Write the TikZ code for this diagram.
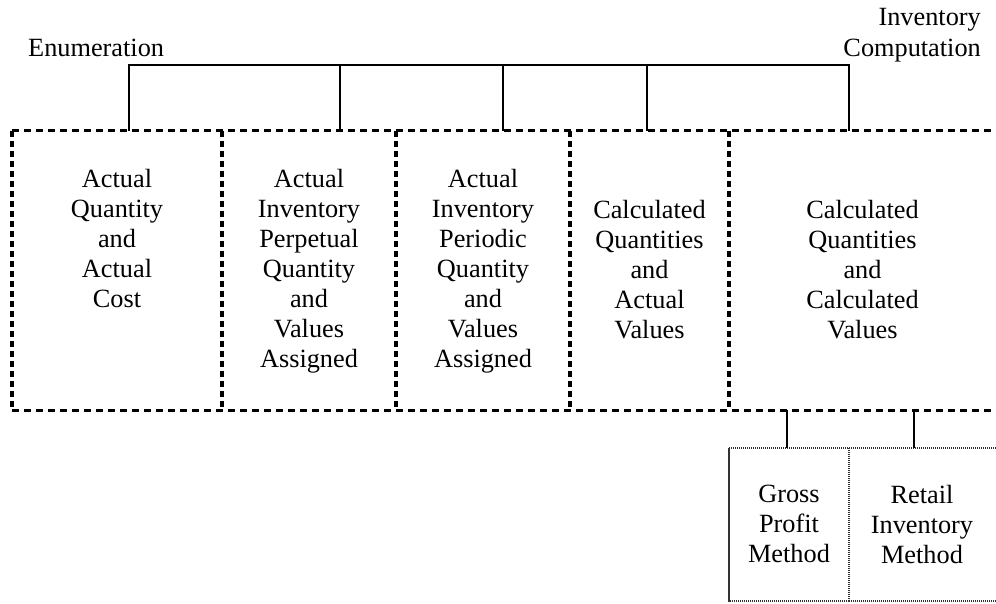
\documentclass[tikz,border=0pt]{standalone}
\usepackage{fontspec}
\setmainfont{Liberation Serif}
\begin{document}
\begin{tikzpicture}[x=1pt,y=-1pt,
  txt/.style={font=\fontsize{26.3}{30}\selectfont, align=center, inner sep=0pt, anchor=north},
  lbl/.style={font=\fontsize{26.3}{30}\selectfont, inner sep=0pt},
  cell/.style={inner sep=0pt, minimum height=279pt},
  subcell/.style={inner sep=0pt, minimum height=153pt},
  hdash/.style={line width=3pt, dash pattern=on 7pt off 5pt},
  vdash/.style={line width=3.5pt, dash pattern=on 6pt off 4pt},
  dotline/.style={line width=2.5pt, dash pattern=on 1.2pt off 0.8pt, gray!40!black},
  conn/.style={line width=2pt}]
\useasboundingbox (0,0) rectangle (996,603);
\begin{scope}
\clip (0,0) rectangle (996,603);
% invisible cells
\node[cell, minimum width=210pt] (b1) at (117,270.5) {};
\node[cell, minimum width=174pt] (b2) at (309,270.5) {};
\node[cell, minimum width=174pt] (b3) at (483,270.5) {};
\node[cell, minimum width=159pt] (b4) at (649.5,270.5) {};
\node[cell, minimum width=270pt] (b5) at (864,270.5) {};
\node[subcell, minimum width=120pt] (g1) at (789,524.5) {};
\node[subcell, minimum width=150pt] (g2) at (924,524.5) {};
% dashed frame
\draw[hdash] (b1.north west) -- (b5.north east);
\draw[hdash] (b1.south west) -- (b5.south east);
\draw[vdash] (b1.north west) -- (b1.south west);
\draw[vdash] (b2.north west) -- (b2.south west);
\draw[vdash] (b3.north west) -- (b3.south west);
\draw[vdash] (b4.north west) -- (b4.south west);
\draw[vdash] (b5.north west) -- (b5.south west);
% dotted sub boxes
\draw[dotline] (g1.south east) -- (g1.south west) -- (g1.north west) -- (g2.north east);
\draw[dotline] (g1.south east) -- (g2.south east);
\draw[dotline] (g1.north east) -- (g1.south east);
\end{scope}
% texts
\node[txt] (t1) at (117,169) {Actual\\Quantity\\and\\Actual\\Cost};
\node[txt] (t2) at (309,169) {Actual\\Inventory\\Perpetual\\Quantity\\and\\Values\\Assigned};
\node[txt] (t3) at (483,169) {Actual\\Inventory\\Periodic\\Quantity\\and\\Values\\Assigned};
\node[txt] (t4) at (649.5,200) {Calculated\\Quantities\\and\\Actual\\Values};
\node[txt] (t5) at (862.5,200) {Calculated\\Quantities\\and\\Calculated\\Values};
\node[txt] (t6) at (789,485) {Gross\\Profit\\Method};
\node[txt] (t7) at (922,485) {Retail\\Inventory\\Method};
\node[lbl, anchor=base west] (enum) at (28,56) {Enumeration};
\node[lbl, anchor=base east] (inv1) at (981,25) {Inventory};
\node[lbl, anchor=base east] (inv2) at (981,56) {Computation};
% top connectors
\coordinate (j1) at (129,65);
\coordinate (j2) at (340,65);
\coordinate (j3) at (503,65);
\coordinate (j4) at (647,65);
\coordinate (j5) at (849,65);
\draw[conn] (j1 |- b1.north) -- (j1) -- (j5) -- (j5 |- b5.north);
\draw[conn] (j2) -- (j2 |- b2.north);
\draw[conn] (j3) -- (j3 |- b3.north);
\draw[conn] (j4) -- (j4 |- b4.north);
% bottom connectors
\coordinate (k1) at (787,410);
\coordinate (k2) at (914,410);
\draw[conn] (k1) -- (k1 |- g1.north);
\draw[conn] (k2) -- (k2 |- g2.north);
\end{tikzpicture}
\end{document}
